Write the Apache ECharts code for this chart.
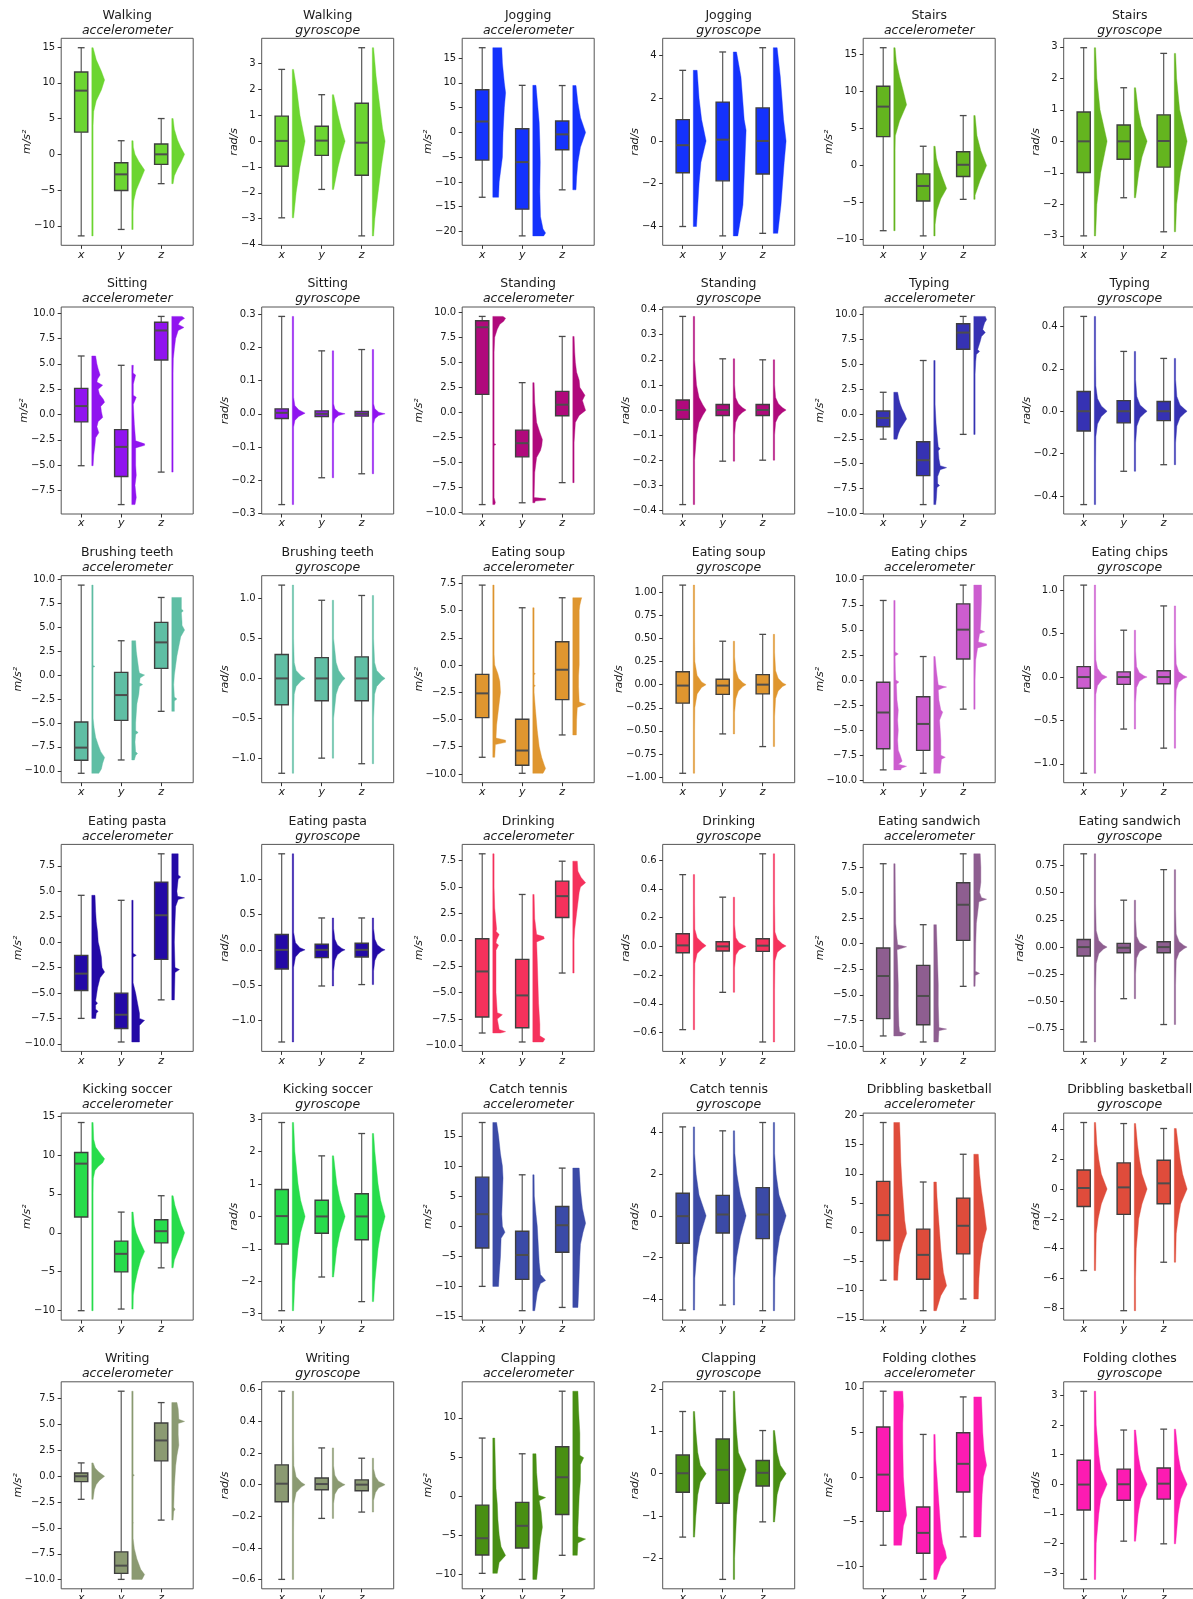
<!DOCTYPE html>
<html>
<head>
<meta charset="utf-8">
<script src="https://cdn.jsdelivr.net/npm/echarts@6/dist/echarts.min.js"></script>
<style>html,body{margin:0;padding:0;background:#fff}#chart{width:1193px;height:1599px}</style>
</head>
<body>
<div id="chart"></div>
<script>
// ---------------- DATA ----------------
const activities = ['Walking','Jogging','Stairs','Sitting','Standing','Typing','Brushing teeth','Eating soup','Eating chips','Eating pasta','Drinking','Eating sandwich','Kicking soccer','Catch tennis','Dribbling basketball','Writing','Clapping','Folding clothes'];
const activityColors = ['#6cd531','#1432fc','#64b51f','#9014ef','#b0097c','#3632b3','#5fbea4','#df962f','#cc5dcf','#2309a6','#f5315c','#8e5e90','#27dc4b','#3b4aa7','#df4c3b','#8b9a72','#488f13','#fd1bb2'];
const sensorNames = ['accelerometer','gyroscope'];
const sensorUnits = ['m/s\u00b2','rad/s'];
const axisCategories = ['x','y','z'];

// y tick values per panel (row-major, 6 panels per row)
const panelTicks = [
  [-10,-5,0,5,10,15],[-4,-3,-2,-1,0,1,2,3],[-20,-15,-10,-5,0,5,10,15],[-4,-2,0,2,4],[-10,-5,0,5,10,15],[-3,-2,-1,0,1,2,3],
  [-7.5,-5,-2.5,0,2.5,5,7.5,10],[-0.3,-0.2,-0.1,0,0.1,0.2,0.3],[-10,-7.5,-5,-2.5,0,2.5,5,7.5,10],[-0.4,-0.3,-0.2,-0.1,0,0.1,0.2,0.3,0.4],[-10,-7.5,-5,-2.5,0,2.5,5,7.5,10],[-0.4,-0.2,0,0.2,0.4],
  [-10,-7.5,-5,-2.5,0,2.5,5,7.5,10],[-1,-0.5,0,0.5,1],[-10,-7.5,-5,-2.5,0,2.5,5,7.5],[-1,-0.75,-0.5,-0.25,0,0.25,0.5,0.75,1],[-10,-7.5,-5,-2.5,0,2.5,5,7.5,10],[-1,-0.5,0,0.5,1],
  [-10,-7.5,-5,-2.5,0,2.5,5,7.5],[-1,-0.5,0,0.5,1],[-10,-7.5,-5,-2.5,0,2.5,5,7.5],[-0.6,-0.4,-0.2,0,0.2,0.4,0.6],[-10,-7.5,-5,-2.5,0,2.5,5,7.5],[-0.75,-0.5,-0.25,0,0.25,0.5,0.75],
  [-10,-5,0,5,10,15],[-3,-2,-1,0,1,2,3],[-15,-10,-5,0,5,10,15],[-4,-2,0,2,4],[-15,-10,-5,0,5,10,15,20],[-8,-6,-4,-2,0,2,4],
  [-10,-7.5,-5,-2.5,0,2.5,5,7.5],[-0.6,-0.4,-0.2,0,0.2,0.4,0.6],[-10,-5,0,5,10],[-2,-1,0,1,2],[-10,-5,0,5,10],[-3,-2,-1,0,1,2,3]
];

// box statistics per panel: for x, y, z -> [min, q1, median, q3, max]
const boxStats = [
  [[-11.4,3.1,8.9,11.5,14.9],[-10.5,-5.05,-2.8,-1.17,1.9],[-4.1,-1.4,0,1.45,5.0]],
  [[-2.97,-0.97,0.01,0.97,2.78],[-1.87,-0.55,0.02,0.58,1.8],[-3.67,-1.32,-0.06,1.47,3.62]],
  [[-13.1,-5.6,2.2,8.6,17.1],[-20.9,-15.5,-6.0,0.74,9.5],[-11.6,-3.5,-0.4,2.3,9.46]],
  [[-4.01,-1.49,-0.2,1.0,3.31],[-4.45,-1.87,0.06,1.82,4.17],[-4.33,-1.55,0.0,1.55,4.37]],
  [[-8.8,3.9,7.95,10.7,15.9],[-9.5,-4.8,-2.76,-1.13,2.6],[-4.57,-1.49,0.1,1.86,6.74]],
  [[-3.0,-0.99,0,0.93,2.97],[-1.79,-0.57,0,0.52,1.7],[-2.87,-0.82,0.01,0.84,2.79]],
  [[-5.06,-0.73,0.83,2.58,5.78],[-8.9,-6.12,-3.2,-1.49,4.86],[-5.69,5.39,8.3,9.12,9.69]],
  [[-0.274,-0.014,0.003,0.015,0.294],[-0.193,-0.008,0,0.009,0.19],[-0.181,-0.007,0,0.007,0.194]],
  [[-9.2,1.8,8.5,9.15,9.58],[-9.02,-4.44,-3.07,-1.77,2.97],[-7.01,-0.33,0.77,2.1,7.58]],
  [[-0.377,-0.037,0,0.04,0.373],[-0.204,-0.022,0,0.022,0.204],[-0.2,-0.022,0,0.022,0.2]],
  [[-2.53,-1.28,-0.4,0.3,2.19],[-9.12,-6.2,-4.65,-2.79,5.39],[-2.05,6.53,8.2,9.09,9.83]],
  [[-0.44,-0.093,0,0.093,0.447],[-0.283,-0.055,0,0.05,0.282],[-0.252,-0.044,0,0.046,0.249]],
  [[-10.26,-8.9,-7.58,-4.9,9.39],[-8.87,-4.73,-2.09,0.28,3.58],[-3.79,0.7,3.41,5.5,8.1]],
  [[-1.19,-0.33,0,0.3,1.17],[-1.0,-0.28,0,0.26,0.98],[-1.07,-0.28,0,0.27,1.04]],
  [[-8.47,-4.83,-2.6,-0.86,7.34],[-9.94,-9.2,-7.85,-4.98,5.26],[-6.42,-3.18,-0.43,2.14,6.18]],
  [[-0.959,-0.2,-0.01,0.14,1.077],[-0.533,-0.105,-0.01,0.058,0.47],[-0.67,-0.1,0,0.108,0.544]],
  [[-8.96,-6.86,-3.24,-0.23,7.93],[-9.3,-7.02,-4.38,-1.67,2.34],[-2.91,2.1,5.02,7.59,9.46]],
  [[-1.11,-0.13,0,0.12,1.06],[-0.6,-0.085,0,0.06,0.54],[-0.82,-0.077,0,0.073,0.82]],
  [[-7.5,-4.76,-3.1,-1.3,4.6],[-9.82,-8.5,-7.14,-5.02,4.11],[-5.68,-1.7,2.64,5.9,8.68]],
  [[-1.3,-0.27,0,0.216,1.355],[-0.51,-0.11,0,0.08,0.45],[-0.49,-0.1,0,0.094,0.45]],
  [[-8.83,-7.32,-3.0,0.09,8.14],[-9.68,-8.33,-5.27,-1.86,4.29],[-3.15,2.11,4.13,5.55,7.44]],
  [[-0.58,-0.044,0.007,0.088,0.5],[-0.32,-0.032,0,0.032,0.343],[-0.666,-0.035,0.005,0.053,0.645]],
  [[-9.02,-7.33,-3.16,-0.42,7.82],[-9.61,-7.92,-5.11,-2.12,1.86],[-4.17,0.33,3.81,5.96,8.79]],
  [[-0.87,-0.082,0,0.07,0.855],[-0.473,-0.052,-0.006,0.034,0.43],[-0.71,-0.052,0,0.049,0.71]],
  [[-10.0,2.02,8.88,10.3,14.16],[-9.79,-5.02,-2.7,-1.07,2.66],[-4.5,-1.29,0.21,1.67,4.76]],
  [[-2.91,-0.85,0.01,0.83,2.9],[-1.87,-0.52,0,0.5,1.87],[-2.63,-0.72,0,0.7,2.56]],
  [[-9.97,-3.6,2.0,8.14,17.2],[-14.0,-8.8,-4.76,-0.83,8.53],[-13.46,-4.32,0.17,3.27,9.64]],
  [[-4.53,-1.32,-0.02,1.08,4.27],[-4.29,-0.83,0.06,0.98,4.08],[-4.56,-1.1,0.06,1.35,4.48]],
  [[-8.35,-1.5,2.88,8.69,18.83],[-13.59,-8.18,-3.97,0.46,8.58],[-11.57,-3.8,1.04,5.81,13.36]],
  [[-5.47,-1.17,0.07,1.28,4.46],[-8.16,-1.7,0.11,1.75,4.39],[-4.91,-0.99,0.38,1.93,4.06]],
  [[-2.23,-0.52,0,0.32,1.29],[-9.97,-9.39,-8.64,-7.31,8.22],[-4.24,1.49,3.46,5.15,7.12]],
  [[-0.598,-0.108,0.006,0.125,0.59],[-0.213,-0.032,0.004,0.042,0.232],[-0.173,-0.038,0,0.03,0.167]],
  [[-9.89,-7.54,-5.4,-1.16,7.41],[-10.66,-6.64,-3.81,-0.81,5.4],[-7.58,-2.36,2.4,6.3,13.4]],
  [[-1.5,-0.44,0.01,0.44,1.47],[-2.5,-0.7,0.09,0.82,1.95],[-1.14,-0.29,0.02,0.31,1.02]],
  [[-7.67,-3.87,0.26,5.6,9.62],[-11.5,-8.57,-6.28,-3.38,4.77],[-6.73,-1.69,1.47,4.96,8.98]],
  [[-3.21,-0.87,-0.01,0.81,3.14],[-1.92,-0.54,0,0.51,1.83],[-2.01,-0.5,0.02,0.55,1.86]]
];

// distribution outlines per panel: for x, y, z -> [value, relative width]
const violinProfiles = [
  [[[-11.4,0.04],[-8,0.06],[-3,0.05],[1,0.05],[4,0.08],[6,0.15],[7.5,0.35],[9,0.75],[10.4,1],[11.6,0.75],[13.2,0.35],[14.9,0.08]],
   [[-10.5,0.05],[-8,0.08],[-6.5,0.15],[-5,0.35],[-3.5,0.7],[-2.2,1],[-1,0.55],[0,0.25],[1,0.12],[1.9,0.05]],
   [[-4.1,0.05],[-3,0.2],[-2,0.45],[-1,0.75],[0,1],[1,0.7],[2,0.45],[3.5,0.2],[5,0.05]]],
  [[[-2.97,0.08],[-2,0.3],[-1,0.6],[0,1],[1,0.6],[2,0.35],[2.78,0.1]],
   [[-1.87,0.1],[-1,0.45],[-0.5,0.7],[0,1],[0.5,0.7],[1,0.45],[1.8,0.1]],
   [[-3.67,0.08],[-3,0.2],[-2,0.45],[-1,0.7],[0,1],[0.5,0.8],[1.5,0.55],[2.5,0.3],[3.62,0.08]]],
  [[[-13.1,0.45],[-10,0.5],[-8,0.6],[-5,0.75],[0,0.8],[5,0.9],[8,1],[10,0.9],[14,0.75],[17.1,0.7]],
   [[-20.9,0.85],[-20.3,1],[-19.5,0.8],[-17,0.6],[-12,0.55],[-6,0.58],[-2,0.55],[2,0.5],[5,0.4],[8,0.3],[9.5,0.25]],
   [[-11.6,0.25],[-9,0.3],[-6,0.4],[-3,0.6],[0,1],[3,0.6],[6,0.4],[9.46,0.25]]],
  [[[-4.01,0.25],[-3,0.35],[-2,0.45],[-1,0.6],[0,1],[1,0.65],[2,0.45],[3.31,0.3]],
   [[-4.45,0.35],[-3,0.75],[-1,0.9],[0.5,1],[1,0.85],[3,0.6],[4.17,0.25]],
   [[-4.33,0.35],[-3,0.6],[-1,0.85],[0,1],[1,0.8],[3,0.55],[4.37,0.3]]],
  [[[-8.8,0.03],[0,0.04],[2,0.05],[4,0.12],[6,0.45],[8.2,1],[10,0.75],[12,0.45],[14,0.2],[15.9,0.05]],
   [[-9.5,0.05],[-8,0.1],[-6,0.25],[-4.5,0.55],[-3.1,1],[-1.5,0.65],[0,0.35],[1,0.2],[2.6,0.05]],
   [[-4.57,0.05],[-4,0.1],[-2,0.5],[0,1],[2,0.55],[4,0.25],[6.74,0.05]]],
  [[[-3,0.05],[-2,0.2],[-1,0.5],[0,1],[1,0.45],[2,0.2],[2.97,0.05]],
   [[-1.79,0.05],[-1,0.35],[-0.5,0.6],[0,1],[0.5,0.55],[1,0.3],[1.7,0.05]],
   [[-2.87,0.05],[-2,0.18],[-1,0.48],[0,1],[1,0.42],[2,0.18],[2.79,0.05]]],
  [[[-5.06,0.1],[-4,0.15],[-3,0.25],[-2.3,0.3],[-1.8,0.55],[-1.2,0.4],[-0.7,0.5],[-0.3,0.85],[0.3,0.75],[0.8,0.7],[1.2,1],[1.5,0.9],[2,0.6],[2.5,0.5],[2.9,0.85],[3.2,0.4],[3.5,0.45],[3.9,0.65],[4.5,0.5],[5,0.4],[5.78,0.3]],
   [[-8.9,0.25],[-8.2,0.35],[-7,0.25],[-6,0.35],[-5,0.3],[-3.3,0.3],[-3.05,1],[-2.9,1],[-2.6,0.3],[-1,0.2],[1,0.12],[1.7,0.35],[1.9,0.12],[3,0.12],[3.9,0.3],[4.1,0.1],[4.86,0.12]],
   [[-5.69,0.04],[-3.3,0.04],[-3.2,0.1],[-3.1,0.04],[0,0.04],[4,0.06],[5.5,0.12],[6.5,0.2],[7.5,0.3],[8.3,0.5],[8.6,0.95],[8.9,0.5],[9.2,0.65],[9.5,1],[9.69,0.8]]],
  [[[-0.274,0.03],[-0.1,0.04],[-0.04,0.09],[-0.02,0.2],[-0.008,0.5],[0.002,1],[0.012,0.5],[0.025,0.2],[0.05,0.08],[0.1,0.04],[0.294,0.03]],
   [[-0.193,0.03],[-0.08,0.04],[-0.03,0.09],[-0.015,0.2],[-0.005,0.5],[0,1],[0.005,0.5],[0.015,0.2],[0.03,0.09],[0.08,0.04],[0.19,0.03]],
   [[-0.181,0.03],[-0.08,0.04],[-0.03,0.09],[-0.015,0.2],[-0.005,0.5],[0,1],[0.005,0.5],[0.015,0.2],[0.03,0.09],[0.08,0.04],[0.194,0.03]]],
  [[[-9.2,0.15],[-9,0.2],[-8.5,0.06],[-3.3,0.06],[-3.2,0.25],[-3.1,0.06],[3,0.05],[6,0.08],[7.5,0.15],[8.3,0.35],[8.8,0.55],[9.1,0.85],[9.4,1],[9.58,0.8]],
   [[-9.02,0.15],[-8.85,0.2],[-8.75,1],[-8.6,1],[-8.5,0.1],[-6,0.15],[-4.5,0.3],[-3.8,0.6],[-3.3,0.7],[-2.7,0.75],[-2,0.55],[-1,0.3],[1,0.15],[2.97,0.1]],
   [[-7.01,0.05],[-5,0.06],[-3,0.1],[-1,0.2],[-0.3,0.5],[0.2,1],[0.8,0.85],[1.2,0.75],[1.7,0.95],[2.5,0.55],[3.2,0.5],[4,0.3],[5,0.2],[6,0.15],[7.58,0.1]]],
  [[[-0.377,0.03],[-0.2,0.1],[-0.1,0.25],[-0.05,0.45],[-0.02,0.75],[0,1],[0.02,0.75],[0.05,0.45],[0.1,0.25],[0.2,0.1],[0.373,0.03]],
   [[-0.204,0.03],[-0.1,0.07],[-0.05,0.18],[-0.025,0.4],[-0.01,0.7],[0,1],[0.01,0.7],[0.025,0.4],[0.05,0.18],[0.1,0.07],[0.204,0.03]],
   [[-0.2,0.03],[-0.1,0.07],[-0.05,0.18],[-0.025,0.4],[-0.01,0.7],[0,1],[0.01,0.7],[0.025,0.4],[0.05,0.18],[0.1,0.07],[0.2,0.03]]],
  [[[-2.53,0.25],[-2,0.35],[-1.5,0.5],[-1,0.75],[-0.5,1],[0,0.85],[0.5,0.65],[1,0.5],[1.5,0.4],[2.19,0.3]],
   [[-9.12,0.15],[-8.5,0.2],[-7.4,0.25],[-7.2,0.45],[-7,0.3],[-6.3,0.3],[-5.6,0.5],[-5.4,1],[-5.2,0.5],[-4.5,0.4],[-3.7,0.35],[-3.5,0.5],[-3.3,0.35],[-2,0.25],[-1,0.18],[0.5,0.12],[1,0.05],[5.39,0.04]],
   [[-2.05,0.03],[0,0.03],[4,0.05],[5.3,0.15],[6,0.2],[6.3,0.45],[6.5,0.3],[7.3,0.5],[7.8,0.6],[8.2,0.9],[8.5,0.7],[8.8,0.75],[9.2,0.85],[9.5,1],[9.83,0.9]]],
  [[[-0.44,0.03],[-0.25,0.06],[-0.12,0.12],[-0.06,0.25],[-0.025,0.55],[0,1],[0.025,0.55],[0.06,0.25],[0.12,0.12],[0.25,0.06],[0.447,0.03]],
   [[-0.283,0.03],[-0.15,0.08],[-0.07,0.2],[-0.03,0.45],[-0.01,0.8],[0,1],[0.01,0.8],[0.03,0.45],[0.07,0.2],[0.15,0.08],[0.282,0.03]],
   [[-0.252,0.03],[-0.15,0.08],[-0.07,0.2],[-0.03,0.45],[-0.01,0.8],[0,1],[0.01,0.8],[0.03,0.45],[0.07,0.2],[0.15,0.08],[0.249,0.03]]],
  [[[-10.26,0.55],[-9.8,0.75],[-9.2,0.85],[-8.6,1],[-8,0.7],[-7.3,0.5],[-6.5,0.3],[-5.5,0.18],[-4.5,0.1],[-3,0.05],[0.8,0.06],[0.9,0.25],[1.0,0.06],[5,0.04],[9.39,0.06]],
   [[-8.87,0.2],[-8.4,0.3],[-8.2,0.45],[-8,0.3],[-7,0.25],[-6.2,0.3],[-6,0.5],[-5.8,0.3],[-5,0.3],[-4,0.35],[-3,0.4],[-2,0.55],[-1.2,0.6],[-1,0.85],[-0.8,0.6],[-0.3,0.65],[0,1],[0.2,0.6],[0.5,0.55],[1.5,0.45],[2.5,0.35],[3.58,0.3]],
   [[-3.79,0.2],[-2.7,0.2],[-2.5,0.4],[-2.3,0.2],[-1,0.15],[0,0.2],[1,0.3],[2,0.4],[3,0.55],[4,0.7],[4.7,1],[5.2,0.8],[5.5,0.8],[6.5,0.75],[6.7,0.9],[6.9,0.75],[8.1,0.75]]],
  [[[-1.19,0.03],[-0.5,0.06],[-0.2,0.15],[-0.1,0.3],[-0.03,0.7],[0,1],[0.03,0.7],[0.1,0.3],[0.2,0.15],[0.5,0.06],[1.17,0.03]],
   [[-1.0,0.03],[-0.5,0.1],[-0.2,0.3],[-0.1,0.5],[-0.03,0.8],[0,1],[0.03,0.8],[0.1,0.5],[0.2,0.3],[0.5,0.1],[0.98,0.03]],
   [[-1.07,0.03],[-0.5,0.07],[-0.2,0.18],[-0.1,0.35],[-0.03,0.75],[0,1],[0.03,0.75],[0.1,0.35],[0.2,0.18],[0.5,0.07],[1.04,0.03]]],
  [[[-8.47,0.15],[-7.3,0.2],[-7.1,1],[-6.9,1],[-6.7,0.25],[-5.5,0.3],[-4.5,0.4],[-3.5,0.5],[-2.5,0.6],[-1.5,0.55],[-0.8,0.4],[0,0.15],[1,0.1],[3,0.05],[7.34,0.05]],
   [[-9.94,0.8],[-9.5,1],[-9.2,0.9],[-8.5,0.7],[-7.5,0.5],[-6,0.35],[-4,0.2],[-2.5,0.08],[-2,0.08],[-1.9,0.2],[-1.8,0.08],[-0.9,0.08],[-0.8,0.2],[-0.7,0.06],[2,0.04],[5.26,0.04]],
   [[-6.42,0.28],[-5,0.3],[-3.9,0.35],[-3.6,1],[-3.4,0.5],[-2,0.45],[-1,0.45],[0,0.5],[1,0.5],[3,0.5],[5,0.5],[5.5,0.55],[6,0.65],[6.18,0.7]]],
  [[[-0.959,0.03],[-0.5,0.05],[-0.25,0.12],[-0.1,0.3],[-0.03,0.65],[0,1],[0.03,0.65],[0.1,0.3],[0.25,0.12],[0.5,0.05],[1.077,0.03]],
   [[-0.533,0.03],[-0.3,0.08],[-0.15,0.2],[-0.07,0.4],[-0.02,0.75],[0,1],[0.02,0.75],[0.07,0.4],[0.15,0.2],[0.3,0.08],[0.47,0.03]],
   [[-0.67,0.03],[-0.35,0.07],[-0.15,0.18],[-0.07,0.38],[-0.02,0.72],[0,1],[0.02,0.72],[0.07,0.38],[0.15,0.18],[0.35,0.07],[0.544,0.03]]],
  [[[-8.96,0.55],[-8.8,0.6],[-8.6,1],[-8.4,0.35],[-8.1,0.65],[-7.5,0.5],[-7,0.35],[-6,0.3],[-5,0.35],[-4,0.3],[-3,0.35],[-2,0.25],[-0.4,0.2],[-0.2,0.4],[0,0.15],[1,0.12],[2.4,0.1],[2.6,0.35],[2.8,0.08],[5,0.06],[7.93,0.05]],
   [[-9.3,0.5],[-8.5,0.55],[-7.9,0.6],[-7.7,0.9],[-7.5,0.55],[-6,0.55],[-5,0.5],[-4,0.45],[-3.2,0.7],[-3,0.55],[-2,0.4],[-1,0.35],[-0.8,0.7],[-0.7,1],[-0.5,0.35],[0,0.3],[1,0.2],[2.34,0.1]],
   [[-2.91,0.05],[0,0.1],[2,0.15],[3.2,0.3],[3.45,1],[3.6,1],[3.8,0.35],[4.6,0.45],[4.8,0.85],[5.0,0.5],[6,0.55],[8,0.6],[9.46,0.6]]],
  [[[-1.11,0.03],[-0.5,0.05],[-0.2,0.12],[-0.1,0.25],[-0.03,0.6],[0,1],[0.03,0.6],[0.1,0.25],[0.2,0.12],[0.5,0.05],[1.06,0.03]],
   [[-0.6,0.03],[-0.3,0.06],[-0.12,0.18],[-0.05,0.4],[-0.015,0.75],[0,1],[0.015,0.75],[0.05,0.4],[0.12,0.18],[0.3,0.06],[0.54,0.03]],
   [[-0.82,0.03],[-0.4,0.05],[-0.15,0.15],[-0.06,0.35],[-0.02,0.7],[0,1],[0.02,0.7],[0.06,0.35],[0.15,0.15],[0.4,0.05],[0.82,0.03]]],
  [[[-7.5,0.3],[-7,0.35],[-6.8,0.5],[-6.6,0.3],[-6.2,0.3],[-6.0,0.45],[-5.8,0.3],[-4.5,0.45],[-3.5,0.65],[-2.95,1],[-2.5,0.8],[-1.5,0.75],[-0.5,0.6],[0,0.5],[1,0.45],[2,0.35],[3,0.3],[4.6,0.25]],
   [[-9.82,0.6],[-9,0.6],[-8.2,0.6],[-7.8,0.9],[-7.7,1],[-7.5,0.6],[-7,0.6],[-6,0.45],[-5,0.3],[-4,0.1],[-1.5,0.08],[-1.3,0.35],[-1.1,0.08],[0,0.05],[4.11,0.05]],
   [[-5.68,0.2],[-3,0.25],[-2.7,0.6],[-2.5,0.25],[0,0.2],[2,0.25],[3.5,0.3],[4.2,0.5],[4.35,1],[4.5,0.45],[5,0.4],[6.2,0.5],[6.4,0.7],[6.6,0.5],[7.5,0.5],[8.68,0.5]]],
  [[[-1.3,0.03],[-0.6,0.05],[-0.25,0.1],[-0.1,0.25],[-0.03,0.6],[0,1],[0.03,0.6],[0.1,0.25],[0.25,0.1],[0.6,0.05],[1.355,0.03]],
   [[-0.51,0.03],[-0.3,0.08],[-0.15,0.2],[-0.07,0.4],[-0.02,0.75],[0,1],[0.02,0.75],[0.07,0.4],[0.15,0.2],[0.3,0.08],[0.45,0.03]],
   [[-0.49,0.03],[-0.3,0.08],[-0.15,0.2],[-0.07,0.4],[-0.02,0.75],[0,1],[0.02,0.75],[0.07,0.4],[0.15,0.2],[0.3,0.08],[0.45,0.03]]],
  [[[-8.83,0.6],[-8.7,1],[-8.5,0.5],[-7.5,0.35],[-7.1,0.75],[-6.9,0.35],[-5,0.25],[-3,0.25],[-1,0.25],[-0.5,0.45],[-0.3,0.25],[0,0.3],[0.5,0.5],[0.8,0.25],[1,0.3],[3,0.15],[5,0.1],[8.14,0.1]],
   [[-9.68,0.8],[-9.4,0.95],[-9.1,0.55],[-8,0.55],[-7,0.5],[-6,0.45],[-4,0.4],[-2,0.35],[-0.2,0.3],[0.1,0.9],[0.3,0.85],[0.5,0.3],[2,0.15],[4.29,0.1]],
   [[-3.15,0.05],[0,0.1],[1,0.15],[2.5,0.3],[3.5,0.4],[4.5,0.5],[5.0,0.6],[5.4,1],[5.9,0.65],[6.5,0.4],[7.44,0.35]]],
  [[[-0.58,0.03],[-0.3,0.05],[-0.12,0.12],[-0.05,0.3],[-0.015,0.7],[0.005,1],[0.025,0.7],[0.06,0.3],[0.12,0.12],[0.3,0.05],[0.5,0.03]],
   [[-0.32,0.03],[-0.15,0.07],[-0.06,0.2],[-0.025,0.45],[-0.008,0.8],[0,1],[0.008,0.8],[0.025,0.45],[0.06,0.2],[0.15,0.07],[0.343,0.03]],
   [[-0.666,0.03],[-0.3,0.05],[-0.1,0.13],[-0.04,0.32],[-0.012,0.7],[0.003,1],[0.018,0.7],[0.05,0.32],[0.1,0.13],[0.3,0.05],[0.645,0.03]]],
  [[[-9.02,0.6],[-8.8,0.95],[-8.6,0.45],[-8,0.4],[-6,0.35],[-4,0.35],[-2,0.3],[-0.6,0.25],[-0.3,1],[-0.1,0.3],[0.5,0.25],[2,0.15],[5,0.12],[7.82,0.1]],
   [[-9.61,0.35],[-8.5,0.4],[-8.35,1],[-8.2,0.4],[-8,0.4],[-6,0.35],[-4,0.35],[-2,0.3],[0,0.25],[1.86,0.2]],
   [[-4.17,0.1],[-3.1,0.12],[-2.9,0.45],[-2.7,0.12],[0,0.15],[2,0.2],[3,0.3],[4.1,0.4],[4.35,1],[4.5,0.6],[5,0.45],[6,0.55],[7.5,0.55],[8.79,0.5]]],
  [[[-0.87,0.03],[-0.4,0.05],[-0.15,0.15],[-0.06,0.35],[-0.02,0.7],[0,1],[0.02,0.7],[0.06,0.35],[0.15,0.15],[0.4,0.05],[0.855,0.03]],
   [[-0.473,0.03],[-0.25,0.06],[-0.1,0.18],[-0.04,0.42],[-0.012,0.8],[0,1],[0.012,0.8],[0.04,0.42],[0.1,0.18],[0.25,0.06],[0.43,0.03]],
   [[-0.71,0.03],[-0.35,0.05],[-0.12,0.15],[-0.05,0.38],[-0.015,0.75],[0,1],[0.015,0.75],[0.05,0.38],[0.12,0.15],[0.35,0.05],[0.71,0.03]]],
  [[[-10,0.08],[-9,0.05],[0,0.04],[5,0.06],[7,0.12],[8,0.25],[8.5,0.5],[9,0.85],[9.5,1],[10,0.75],[11,0.3],[12,0.15],[14.16,0.05]],
   [[-9.79,0.08],[-8,0.12],[-6.5,0.25],[-5,0.45],[-3.5,0.7],[-2.4,1],[-1,0.6],[0,0.35],[1,0.2],[2.66,0.05]],
   [[-4.5,0.05],[-3.5,0.2],[-2,0.55],[-1,0.8],[0,1],[1,0.75],[2,0.55],[3.5,0.25],[4.76,0.05]]],
  [[[-2.91,0.05],[-2,0.2],[-1,0.45],[-0.5,0.65],[0,1],[0.5,0.65],[1,0.45],[2,0.2],[2.9,0.05]],
   [[-1.87,0.05],[-1,0.35],[-0.5,0.6],[0,1],[0.5,0.6],[1,0.35],[1.87,0.05]],
   [[-2.63,0.05],[-2,0.2],[-1,0.45],[-0.5,0.65],[0,1],[0.5,0.65],[1,0.45],[2,0.2],[2.56,0.05]]],
  [[[-9.97,0.45],[-8,0.5],[-5,0.6],[-2,0.65],[-1,0.95],[0,0.75],[2,0.7],[5,0.75],[8,0.8],[10,0.75],[12,0.6],[15,0.45],[17.2,0.3]],
   [[-14,0.15],[-12.5,0.25],[-11,0.35],[-9.5,0.6],[-9,1],[-8,0.6],[-6,0.5],[-4,0.45],[-2,0.4],[0,0.35],[2,0.25],[5,0.12],[8.53,0.05]],
   [[-13.46,0.4],[-11,0.45],[-8,0.5],[-5,0.55],[-3,0.6],[-1,0.8],[0.5,1],[1.5,0.9],[3,0.75],[6,0.6],[8,0.55],[9.64,0.5]]],
  [[[-4.53,0.05],[-3,0.12],[-2,0.25],[-1,0.5],[0,1],[1,0.45],[2,0.22],[3,0.1],[4.27,0.05]],
   [[-4.29,0.05],[-3,0.1],[-2,0.25],[-1,0.55],[0,1],[1,0.55],[2,0.28],[3,0.12],[4.08,0.05]],
   [[-4.56,0.05],[-3,0.12],[-2,0.25],[-1,0.5],[0,1],[1,0.45],[2,0.22],[3,0.1],[4.48,0.05]]],
  [[[-8.35,0.3],[-6,0.35],[-4,0.45],[-2,0.7],[-0.3,1],[2,0.85],[5,0.75],[8,0.65],[12,0.55],[16,0.5],[18.83,0.45]],
   [[-13.59,0.2],[-11,0.55],[-9.3,1],[-7,0.75],[-5,0.65],[-3,0.55],[0,0.45],[3,0.35],[6,0.25],[8.58,0.2]],
   [[-11.57,0.35],[-8,0.4],[-5,0.5],[-2,0.7],[0.5,1],[4,0.8],[7,0.6],[10,0.45],[13.36,0.35]]],
  [[[-5.47,0.05],[-3,0.15],[-2,0.3],[-1,0.55],[0,1],[1,0.55],[2,0.35],[3,0.2],[4.46,0.1]],
   [[-8.16,0.04],[-6,0.06],[-4,0.15],[-2,0.35],[-1,0.6],[0,1],[1,0.6],[2,0.4],[3,0.25],[4.39,0.1]],
   [[-4.91,0.05],[-3,0.15],[-2,0.3],[-1,0.5],[0,1],[1,0.65],[2,0.45],[3,0.3],[4.06,0.15]]],
  [[[-2.23,0.05],[-1.3,0.2],[-0.8,0.35],[-0.4,0.6],[0,1],[0.4,0.55],[0.8,0.25],[1.29,0.1]],
   [[-9.97,0.8],[-9.5,1],[-9,0.7],[-8,0.4],[-7,0.2],[-6,0.06],[-4.6,0.06],[-4.5,0.12],[-4.4,0.04],[0,0.04],[0.1,0.2],[0.2,0.04],[8.22,0.03]],
   [[-4.24,0.1],[-3.4,0.15],[-3.2,0.25],[-3,0.15],[-1,0.2],[0,0.25],[1,0.3],[2,0.4],[3,0.55],[4,0.5],[5.1,0.5],[5.3,1],[5.5,0.55],[6.5,0.5],[7.12,0.4]]],
  [[[-0.598,0.03],[-0.3,0.05],[-0.12,0.12],[-0.05,0.3],[-0.015,0.7],[0,1],[0.015,0.7],[0.05,0.3],[0.12,0.12],[0.3,0.05],[0.59,0.03]],
   [[-0.213,0.03],[-0.12,0.08],[-0.06,0.2],[-0.025,0.45],[-0.008,0.8],[0,1],[0.008,0.8],[0.025,0.45],[0.06,0.2],[0.12,0.08],[0.232,0.03]],
   [[-0.173,0.03],[-0.1,0.1],[-0.05,0.25],[-0.02,0.5],[-0.007,0.85],[0,1],[0.007,0.85],[0.02,0.5],[0.05,0.25],[0.1,0.1],[0.167,0.03]]],
  [[[-9.89,0.35],[-8.5,0.5],[-7.6,1],[-6.5,0.65],[-5,0.5],[-3,0.4],[-1,0.35],[1,0.25],[4,0.2],[7.41,0.15]],
   [[-10.66,0.3],[-9,0.4],[-7,0.5],[-5.5,0.6],[-4,0.75],[-3,0.7],[-2,0.65],[-0.6,0.5],[-0.2,1],[0.1,0.45],[1,0.4],[3,0.3],[5.4,0.25]],
   [[-7.58,0.35],[-6,0.4],[-5.5,1],[-5.2,0.4],[-4,0.4],[-2,0.45],[0,0.5],[2,0.6],[4,0.6],[4.9,0.85],[5.2,0.55],[8,0.55],[11,0.45],[13.4,0.4]]],
  [[[-1.5,0.08],[-1,0.2],[-0.5,0.35],[-0.2,0.55],[0,1],[0.2,0.55],[0.5,0.35],[1,0.2],[1.47,0.1]],
   [[-2.5,0.05],[-2,0.1],[-1,0.25],[-0.5,0.4],[0.1,1],[0.5,0.4],[1,0.25],[1.5,0.15],[1.95,0.1]],
   [[-1.14,0.08],[-0.5,0.3],[-0.2,0.55],[0,1],[0.2,0.55],[0.5,0.3],[1.02,0.1]]],
  [[[-7.67,0.6],[-7,0.65],[-5.5,0.75],[-4.3,1],[-2,0.85],[0,0.75],[2,0.72],[4,0.7],[6,0.7],[8,0.75],[9.62,0.7]],
   [[-11.5,0.2],[-10,0.55],[-9.1,1],[-8.3,0.9],[-7.5,0.7],[-6,0.55],[-4,0.45],[-2,0.35],[0,0.25],[2,0.15],[4.77,0.08]],
   [[-6.73,0.55],[-4,0.6],[-2,0.65],[0,0.75],[1.3,1],[3,0.8],[5,0.7],[7,0.65],[8.98,0.6]]],
  [[[-3.21,0.05],[-2,0.15],[-1,0.35],[-0.5,0.5],[0,1],[0.5,0.5],[1,0.35],[2,0.15],[3.14,0.05]],
   [[-1.92,0.05],[-1,0.3],[-0.5,0.5],[0,1],[0.5,0.5],[1,0.3],[1.83,0.05]],
   [[-2.01,0.05],[-1,0.3],[-0.5,0.5],[0,1],[0.5,0.5],[1,0.3],[1.86,0.05]]]
];

// ---------------- LAYOUT / STYLE ----------------
const FONT = '"DejaVu Sans", "Liberation Sans", sans-serif';
const LAYOUT = {left0: 61.2, dx: 200.5, top0: 38.3, dy: 268.7, w: 132, h: 207};
const X_MIN = -0.5, X_MAX = 2.8;
const BOX_HALF = 0.165, CAP_HALF = 0.085, VIOLIN_OFFSET = 0.265, VIOLIN_WIDTH = 0.32;
const EDGE = '#3f3f3f', WHISKER = '#4a4a4a', TEXT = '#1a1a1a', FRAME = '#555555';

const measureCtx = document.createElement('canvas').getContext('2d');
measureCtx.font = '10px ' + FONT;
function fmtTick(v, d) { return v.toFixed(d).replace('-', '\u2212'); }
function decimalsOf(ticks) {
  return Math.max(...ticks.map(t => { const s = String(t); const i = s.indexOf('.'); return i < 0 ? 0 : s.length - i - 1; }));
}

function violinRenderer(p, color) {
  return function (params, api) {
    const k = params.dataIndex;
    const prof = violinProfiles[p][k];
    const x0 = api.coord([k + VIOLIN_OFFSET, 0])[0];
    const W = api.coord([k + VIOLIN_OFFSET + VIOLIN_WIDTH, 0])[0] - x0;
    const pts = [[x0, api.coord([0, prof[0][0]])[1]]];
    prof.forEach(([v, w]) => pts.push([x0 + Math.max(1.3, w * W), api.coord([0, v])[1]]));
    pts.push([x0, api.coord([0, prof[prof.length - 1][0]])[1]]);
    return {type: 'polygon', shape: {points: pts}, style: {fill: color, stroke: color, lineWidth: 0.4}};
  };
}

function boxRenderer(p, color) {
  return function (params, api) {
    const k = params.dataIndex;
    const s = boxStats[p][k];
    const X = v => api.coord([v, 0])[0];
    const Y = v => api.coord([0, v])[1];
    const xc = X(k), xl = X(k - BOX_HALF), xr = X(k + BOX_HALF), cl = X(k - CAP_HALF), cr = X(k + CAP_HALF);
    const yMin = Y(s[0]), yQ1 = Y(s[1]), yMed = Y(s[2]), yQ3 = Y(s[3]), yMax = Y(s[4]);
    const line = (x1, y1, x2, y2, w, col) => ({type: 'line', shape: {x1, y1, x2, y2}, style: {stroke: col, lineWidth: w}});
    return {type: 'group', children: [
      line(xc, yQ3, xc, yMax, 1.1, WHISKER),
      line(xc, yQ1, xc, yMin, 1.1, WHISKER),
      line(cl, yMax, cr, yMax, 1.3, WHISKER),
      line(cl, yMin, cr, yMin, 1.3, WHISKER),
      {type: 'rect', shape: {x: xl, y: yQ3, width: xr - xl, height: yQ1 - yQ3}, style: {fill: color, stroke: EDGE, lineWidth: 1.4}},
      line(xl, yMed, xr, yMed, 2, '#4d4d4d')
    ]};
  };
}

const grids = [], xAxes = [], yAxes = [], series = [], titles = [];
for (let p = 0; p < 36; p++) {
  const r = Math.floor(p / 6), c = p % 6;
  const act = r * 3 + Math.floor(c / 2), sensor = c % 2;
  const color = activityColors[act];
  const left = LAYOUT.left0 + c * LAYOUT.dx, top = LAYOUT.top0 + r * LAYOUT.dy;
  grids.push({left: left, top: top, width: LAYOUT.w, height: LAYOUT.h, show: true, borderColor: FRAME, borderWidth: 1,
              backgroundColor: 'rgba(0,0,0,0)', containLabel: false, outerBoundsMode: 'none'});
  const stats = boxStats[p];
  const lo = Math.min(...stats.map(s => s[0])), hi = Math.max(...stats.map(s => s[4]));
  const pad = (hi - lo) * 0.05;
  const ticks = panelTicks[p];
  const dec = decimalsOf(ticks);
  const labelW = Math.max(...ticks.map(t => measureCtx.measureText(fmtTick(t, dec)).width));
  xAxes.push({type: 'value', gridIndex: p, min: X_MIN, max: X_MAX, position: 'bottom',
    axisLine: {show: false, onZero: false}, splitLine: {show: false},
    axisTick: {show: true, customValues: [0, 1, 2], length: 3.5, lineStyle: {color: '#333', width: 1}},
    axisLabel: {show: true, customValues: [0, 1, 2], formatter: v => axisCategories[Math.round(v)],
      fontFamily: FONT, fontSize: 11, fontStyle: 'italic', color: TEXT, margin: 4}});
  yAxes.push({type: 'value', gridIndex: p, min: lo - pad, max: hi + pad, position: 'left',
    axisLine: {show: false, onZero: false}, splitLine: {show: false},
    axisTick: {show: true, customValues: ticks, length: 3.5, lineStyle: {color: '#333', width: 1}},
    axisLabel: {show: true, customValues: ticks, formatter: v => fmtTick(v, dec),
      fontFamily: FONT, fontSize: 10, color: TEXT, margin: 6},
    name: sensorUnits[sensor], nameLocation: 'middle', nameGap: labelW + 7, nameMoveOverlap: false,
    nameTextStyle: {fontFamily: FONT, fontSize: 11, fontStyle: 'italic', color: TEXT}});
  const seriesData = [[0, stats[0][2]], [1, stats[1][2]], [2, stats[2][2]]];
  series.push({type: 'custom', xAxisIndex: p, yAxisIndex: p, data: seriesData, encode: {x: 0, y: 1},
    clip: false, silent: true, renderItem: violinRenderer(p, color)});
  series.push({type: 'custom', xAxisIndex: p, yAxisIndex: p, data: seriesData, encode: {x: 0, y: 1},
    clip: false, silent: true, renderItem: boxRenderer(p, color)});
  titles.push({text: activities[act], subtext: sensorNames[sensor], left: left + LAYOUT.w / 2, top: top - 30,
    textAlign: 'center', padding: 0, itemGap: 1,
    textStyle: {fontFamily: FONT, fontSize: 12.5, fontWeight: 'normal', color: TEXT, lineHeight: 14},
    subtextStyle: {fontFamily: FONT, fontSize: 12.5, fontStyle: 'italic', color: TEXT, lineHeight: 14}});
}

const chart = echarts.init(document.getElementById('chart'), null, {renderer: 'canvas'});
chart.setOption({
  animation: false,
  backgroundColor: '#ffffff',
  title: titles,
  grid: grids,
  xAxis: xAxes,
  yAxis: yAxes,
  series: series
});
</script>
</body>
</html>
